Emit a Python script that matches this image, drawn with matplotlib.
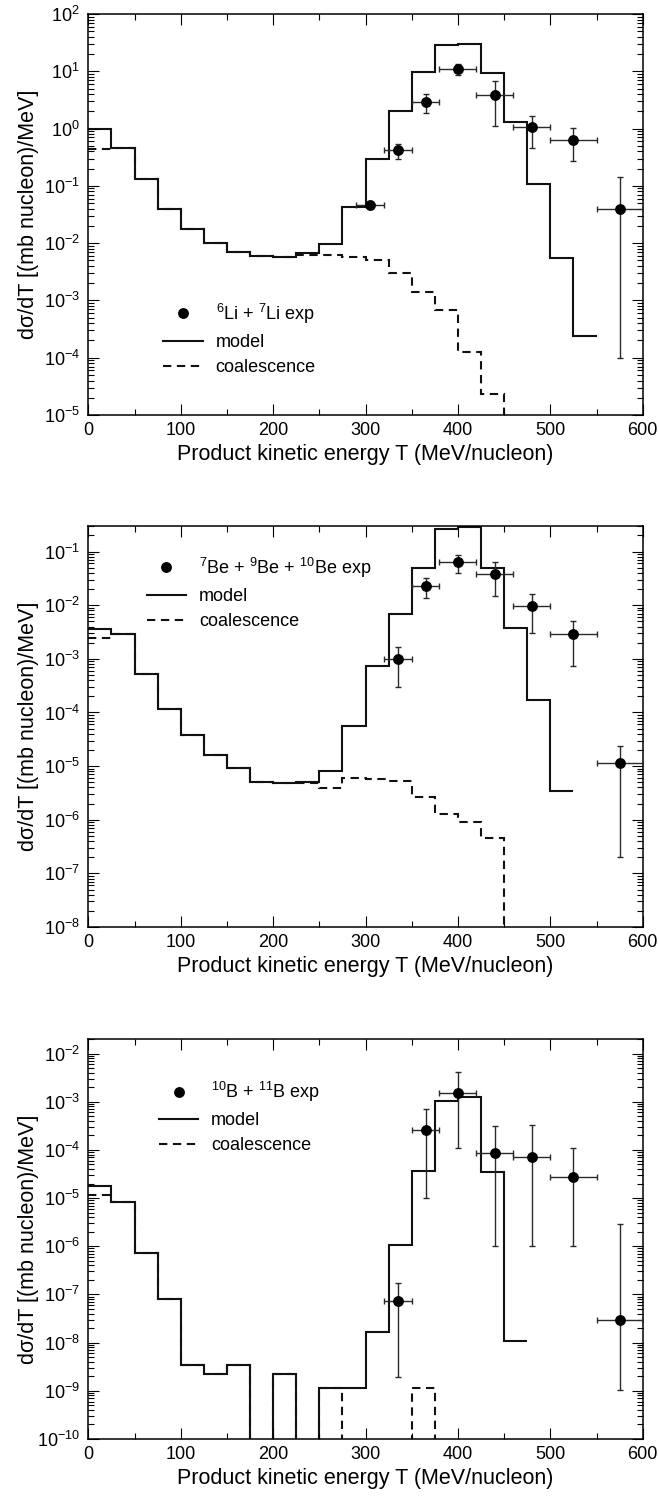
import numpy as np
import matplotlib
matplotlib.use('Agg')
import matplotlib.pyplot as plt
from matplotlib.lines import Line2D
from matplotlib.ticker import LogLocator, MultipleLocator, NullFormatter

plt.rcParams['font.family'] = ['Liberation Sans', 'DejaVu Sans']
plt.rcParams['mathtext.fontset'] = 'custom'
plt.rcParams['mathtext.rm'] = 'Liberation Sans'
plt.rcParams['mathtext.it'] = 'Liberation Sans:italic'
plt.rcParams['mathtext.bf'] = 'Liberation Sans:bold'
plt.rcParams['lines.scale_dashes'] = False
plt.rcParams['axes.unicode_minus'] = False

# ---------------- data ----------------
# Panel 1: Li
li_model_edges = np.arange(0, 551, 25)
li_model = [1.0, 0.46, 0.13, 0.0395, 0.018, 0.0102, 0.0071, 0.0059, 0.0058, 0.0066,
            0.0098, 0.042, 0.30, 2.0, 9.9, 28.4, 29.6, 9.3, 1.32, 0.106, 0.0055, 2.43e-4]
li_coal_edges = np.arange(0, 476, 25)
li_coal = [0.44, 0.46, 0.13, 0.0395, 0.018, 0.0102, 0.0071, 0.0059, 0.0058, 0.0063,
           0.0062, 0.0057, 0.0051, 0.0030, 0.00143, 6.8e-4, 1.28e-4, 2.3e-5, 0.0]
li_x = [305, 335, 365, 400, 440, 480, 525, 575]
li_xlo = [290, 320, 350, 380, 420, 460, 500, 550]
li_xhi = [320, 350, 380, 420, 460, 500, 550, 600]
li_y = [0.047, 0.42, 2.95, 10.8, 3.9, 1.07, 0.63, 0.039]
li_ylo = [0.043, 0.30, 1.9, 8.5, 1.1, 0.46, 0.27, 1.0e-4]
li_yhi = [0.051, 0.53, 4.0, 13.4, 6.8, 1.66, 1.01, 0.145]

# Panel 2: Be
be_model_edges = np.arange(0, 526, 25)
be_model = [3.6e-3, 2.9e-3, 5.3e-4, 1.17e-4, 3.76e-5, 1.61e-5, 9.4e-6, 4.98e-6, 4.9e-6,
            5.0e-6, 8.2e-6, 5.7e-5, 7.3e-4, 6.95e-3, 0.050, 0.265, 0.285, 0.049,
            3.75e-3, 1.69e-4, 3.4e-6]
be_coal_edges = np.arange(0, 476, 25)
be_coal = [2.44e-3, 2.9e-3, 5.3e-4, 1.17e-4, 3.76e-5, 1.61e-5, 9.4e-6, 4.98e-6, 4.9e-6,
           4.8e-6, 3.96e-6, 5.9e-6, 5.8e-6, 5.35e-6, 2.7e-6, 1.26e-6, 9.2e-7, 4.6e-7, 0.0]
be_x = [335, 365, 400, 440, 480, 525, 575]
be_xlo = [320, 350, 380, 420, 460, 500, 550]
be_xhi = [350, 380, 420, 460, 500, 550, 600]
be_y = [9.9e-4, 0.0232, 0.063, 0.038, 9.5e-3, 2.9e-3, 1.16e-5]
be_ylo = [3.05e-4, 0.0134, 0.040, 0.0147, 3.07e-3, 7.4e-4, 2.04e-7]
be_yhi = [1.66e-3, 0.0322, 0.085, 0.063, 0.016, 5.07e-3, 2.41e-5]

# Panel 3: B
b_model_edges = np.arange(0, 476, 25)
b_model = [1.8e-5, 8.45e-6, 7.3e-7, 8.2e-8, 3.4e-9, 2.24e-9, 3.5e-9, 0.0, 2.27e-9, 0.0,
           1.14e-9, 1.14e-9, 1.65e-8, 1.07e-6, 3.7e-5, 1.04e-3, 1.27e-3, 3.4e-5, 1.08e-8]
b_coal_edges = np.arange(0, 401, 25)
b_coal = [1.16e-5, 8.45e-6, 7.3e-7, 8.2e-8, 3.4e-9, 2.24e-9, 3.5e-9, 0.0, 2.27e-9, 0.0,
          1.14e-9, 0.0, 0.0, 0.0, 1.14e-9, 0.0]
b_x = [335, 365, 400, 440, 480, 525, 575]
b_xlo = [320, 350, 380, 420, 460, 500, 550]
b_xhi = [350, 380, 420, 460, 500, 550, 600]
b_y = [7.4e-8, 2.55e-4, 1.5e-3, 8.5e-5, 7.1e-5, 2.8e-5, 2.98e-8]
b_ylo = [1.96e-9, 1.0e-5, 1.07e-4, 1.0e-6, 1.0e-6, 1.0e-6, 1.02e-9]
b_yhi = [1.72e-7, 7.05e-4, 4.1e-3, 3.2e-4, 3.3e-4, 1.1e-4, 2.87e-6]

LINE_C = '#111111'
LW = 1.5
DASH = (0, (6, 4))

fig = plt.figure(figsize=(6.59, 14.98), dpi=100)


def panel(rect, medges, mvals, cedges, cvals, x, xlo, xhi, y, ylo, yhi,
          ylim, label, leg_anchor):
    ax = fig.add_axes(rect)
    ax.set_yscale('log')
    ax.stairs(cvals, cedges, baseline=None, color=LINE_C, lw=LW, linestyle=DASH)
    ax.stairs(mvals, medges, baseline=None, color=LINE_C, lw=LW)
    x = np.array(x, float); y = np.array(y, float)
    xerr = [x - np.array(xlo), np.array(xhi) - x]
    yerr = [y - np.array(ylo), np.array(yhi) - y]
    ax.errorbar(x, y, xerr=xerr, yerr=yerr, fmt='o', color='k', ms=6.8,
                ecolor='#2a2a2a', elinewidth=1.0, capsize=2.4, capthick=1.0, zorder=3)
    ax.set_xlim(0, 600)
    ax.set_ylim(*ylim)
    ax.xaxis.set_major_locator(MultipleLocator(100))
    ax.xaxis.set_minor_locator(MultipleLocator(50))
    ax.yaxis.set_major_locator(LogLocator(base=10, numticks=30))
    ax.yaxis.set_minor_locator(LogLocator(base=10, subs=np.arange(2, 10), numticks=300))
    ax.yaxis.set_minor_formatter(NullFormatter())
    ax.tick_params(which='both', direction='in', top=True, right=True, width=0.8,
                   labelsize=13)
    ax.tick_params(which='major', length=8)
    ax.tick_params(axis='x', which='minor', length=4)
    ax.tick_params(axis='y', which='minor', length=4.5)
    ax.tick_params(axis='x', pad=5)
    ax.tick_params(axis='y', pad=6)
    for s in ax.spines.values():
        s.set_linewidth(1.1)
    ax.set_xlabel('Product kinetic energy T (MeV/nucleon)', fontsize=15.5)
    ax.xaxis.set_label_coords(0.5, -0.073)
    ax.set_ylabel('dσ/dT [(mb nucleon)/MeV]', fontsize=15.5)
    ax.yaxis.set_label_coords(-0.089, 0.5)
    handles = [Line2D([], [], marker='o', ls='none', color='k', ms=6.8),
               Line2D([], [], color=LINE_C, lw=LW),
               Line2D([], [], color=LINE_C, lw=LW, linestyle=DASH)]
    ax.legend(handles, [label, 'model', 'coalescence'], loc='upper left',
              bbox_to_anchor=leg_anchor, frameon=False, fontsize=13,
              handlelength=2.2, handletextpad=0.7, labelspacing=0.45,
              borderpad=0, borderaxespad=0)
    return ax


W = 554.4 / 659
panel([88.3 / 659, 1 - 415 / 1498, W, 401 / 1498], li_model_edges, li_model,
      li_coal_edges, li_coal, li_x, li_xlo, li_xhi, li_y, li_ylo, li_yhi,
      (1e-5, 1e2), r'$^{6}$Li + $^{7}$Li exp', (0.135, 0.2825))
panel([88.3 / 659, 1 - 927 / 1498, W, 401 / 1498], be_model_edges, be_model,
      be_coal_edges, be_coal, be_x, be_xlo, be_xhi, be_y, be_ylo, be_yhi,
      (1e-8, 0.3), r'$^{7}$Be + $^{9}$Be + $^{10}$Be exp', (0.105, 0.926))
panel([88.3 / 659, 1 - 1439 / 1498, W, 400 / 1498], b_model_edges, b_model,
      b_coal_edges, b_coal, b_x, b_xlo, b_xhi, b_y, b_ylo, b_yhi,
      (1e-10, 2e-2), r'$^{10}$B + $^{11}$B exp', (0.127, 0.8975))

fig.savefig('out.png', dpi=100)
